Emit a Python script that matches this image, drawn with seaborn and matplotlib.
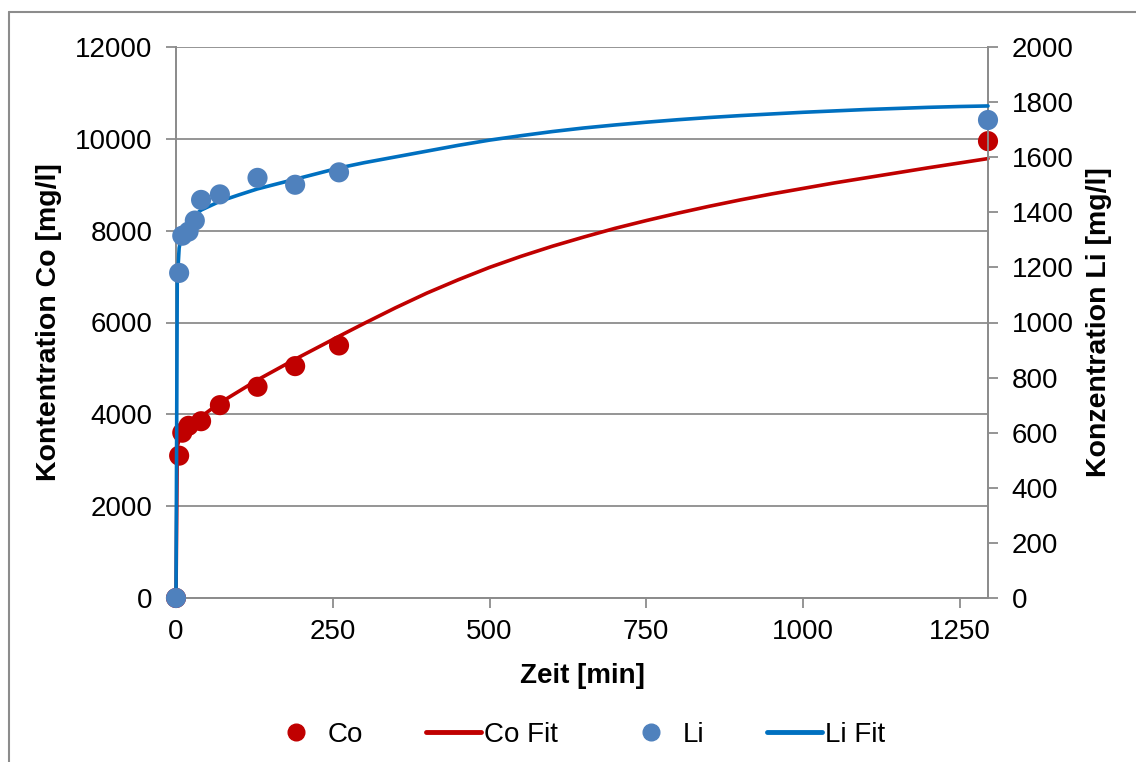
import matplotlib
matplotlib.use("Agg")
import matplotlib.pyplot as plt
from matplotlib.lines import Line2D
import seaborn as sns
import pandas as pd

# ---- data ----
co_time = [0, 5, 10, 20, 40, 70, 130, 190, 260, 1295]
co_conc = [0, 3100, 3600, 3750, 3850, 4200, 4600, 5050, 5500, 9950]

li_time = [0, 5, 10, 20, 30, 40, 70, 130, 190, 260, 1295]
li_conc = [0, 1180, 1315, 1330, 1370, 1445, 1465, 1525, 1500, 1545, 1735]

co_fit_time = [0, 2, 5, 10, 20, 40, 70, 100, 130, 190, 260, 300, 350, 400, 450, 500, 550, 600,
               650, 700, 750, 800, 850, 900, 950, 1000, 1050, 1100, 1150, 1200, 1250, 1295]
co_fit_conc = [0, 3300, 3450, 3580, 3720, 3950, 4250, 4500, 4750, 5200, 5700, 5980, 6320, 6640,
               6930, 7200, 7440, 7660, 7860, 8050, 8220, 8380, 8530, 8670, 8800, 8920, 9040,
               9150, 9260, 9370, 9475, 9570]

li_fit_time = [0, 2, 5, 10, 20, 40, 70, 100, 130, 190, 260, 300, 350, 400, 450, 500, 550, 600,
               650, 700, 750, 800, 850, 900, 950, 1000, 1050, 1100, 1150, 1200, 1250, 1295]
li_fit_conc = [0, 1150, 1270, 1330, 1370, 1408, 1440, 1463, 1485, 1520, 1561, 1580, 1601, 1622,
               1643, 1662, 1678, 1693, 1706, 1717, 1727, 1736, 1744, 1751, 1757, 1763, 1768,
               1773, 1777, 1781, 1784, 1786]

x_ticks = [0, 250, 500, 750, 1000, 1250]
left_ticks = [0, 2000, 4000, 6000, 8000, 10000, 12000]
right_ticks = list(range(0, 2001, 200))

legend_labels = ["Co", "Co Fit", "Li", "Li Fit"]

RED = "#C00000"
LI_PT = "#4F81BD"
LI_LINE = "#0070C0"
GRAY = "#8C8C8C"

sns.set_theme(style="white")
plt.rcParams["font.family"] = ["Liberation Sans", "DejaVu Sans"]
plt.rcParams["text.color"] = "black"
plt.rcParams["axes.labelcolor"] = "black"

fig = plt.figure(figsize=(11.36, 7.62), dpi=100)
ax = fig.add_axes([176 / 1136, 1 - 598 / 762, (988 - 176) / 1136, (598 - 47) / 762])
ax2 = ax.twinx()

df_co = pd.DataFrame({"t": co_time, "c": co_conc})
df_cofit = pd.DataFrame({"t": co_fit_time, "c": co_fit_conc})
df_li = pd.DataFrame({"t": li_time, "c": li_conc})
df_lifit = pd.DataFrame({"t": li_fit_time, "c": li_fit_conc})

sns.scatterplot(data=df_co, x="t", y="c", ax=ax, color=RED, s=210, edgecolor="none", zorder=3)
sns.lineplot(data=df_cofit, x="t", y="c", ax=ax, color=RED, lw=2.6, zorder=4, sort=False)
sns.lineplot(data=df_lifit, x="t", y="c", ax=ax2, color=LI_LINE, lw=2.6, zorder=3, sort=False)
sns.scatterplot(data=df_li, x="t", y="c", ax=ax2, color=LI_PT, s=210, edgecolor="none", zorder=4)

for a in (ax, ax2):
    for c in a.collections:
        c.set_clip_on(False)
    for l in a.lines:
        l.set_clip_on(False)
        l.set_solid_joinstyle("round")

ax.set_xlim(0, 1295)
ax.set_ylim(0, 12000)
ax2.set_ylim(0, 2000)
ax.set_xticks(x_ticks)
ax.set_yticks(left_ticks)
ax2.set_yticks(right_ticks)
ax.set_xticklabels([str(v) for v in x_ticks])
ax.set_yticklabels([str(v) for v in left_ticks])
ax2.set_yticklabels([str(v) for v in right_ticks])

ax.grid(axis="y", color=GRAY, lw=1.3)
ax.grid(axis="x", visible=False)
ax2.grid(False)
ax.set_axisbelow(True)

for a in (ax, ax2):
    for s in a.spines.values():
        s.set_color(GRAY)
        s.set_linewidth(1.3)
    a.spines["top"].set_visible(False)
ax.tick_params(axis="both", which="major", length=7, width=1.3, color=GRAY,
               labelsize=20, labelcolor="black", direction="out")
ax.tick_params(axis="y", pad=10, left=True)
ax.tick_params(axis="x", pad=8, bottom=True)
ax2.tick_params(axis="y", length=7, width=1.3, color=GRAY, labelsize=20,
                labelcolor="black", direction="out", pad=10, right=True)

ax.set_xlabel("Zeit [min]", fontsize=20, fontweight="bold", labelpad=13)
ax.set_ylabel("Kontentration Co [mg/l]", fontsize=20.5, fontweight="bold", labelpad=9)
ax2.set_ylabel("Konzentration Li [mg/l]", fontsize=20.5, fontweight="bold", labelpad=9)

handles = [
    Line2D([], [], marker="o", ls="none", color=RED, markersize=12),
    Line2D([], [], color=RED, lw=3.5, solid_capstyle="round"),
    Line2D([], [], marker="o", ls="none", color=LI_PT, markersize=12),
    Line2D([], [], color=LI_LINE, lw=3.5, solid_capstyle="round"),
]
# one legend entry per slot, like the spread-out legend of the reference
starts = [282, 426, 637, 767]
hlen = [1.0, 1.98, 1.0, 1.98]
tpad = [0.65, 0.1, 0.65, 0.1]
for h, lab, x0, hl, tp in zip(handles, legend_labels, starts, hlen, tpad):
    fig.legend([h], [lab], loc="center left", bbox_to_anchor=(x0 / 1136, 1 - 735 / 762),
               frameon=False, fontsize=20, handlelength=hl, handletextpad=tp,
               borderpad=0, borderaxespad=0)

# outer chart border (left and top visible)
fig.add_artist(Line2D([8.5 / 1136, 8.5 / 1136], [0, 1 - 12 / 762], transform=fig.transFigure,
                      color=GRAY, lw=1.5))
fig.add_artist(Line2D([8.5 / 1136, 1.0], [1 - 12 / 762, 1 - 12 / 762], transform=fig.transFigure,
                      color=GRAY, lw=1.5))

fig.savefig("out.png", dpi=100)
